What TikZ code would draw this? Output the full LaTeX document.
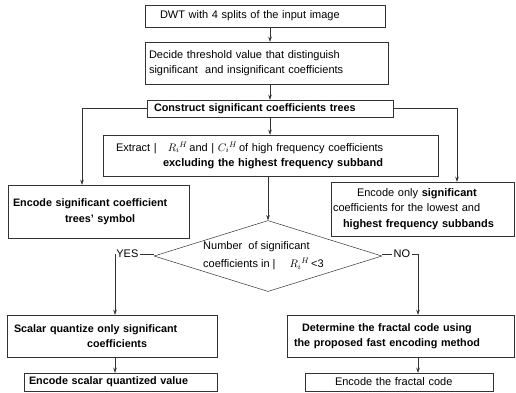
\documentclass[tikz,border=0pt]{standalone}
\usepackage{fontspec}
\setmainfont{Liberation Sans}
\usetikzlibrary{arrows.meta,shapes.geometric}
\begin{document}
\begin{tikzpicture}[x=1pt,y=-1pt,
  line/.style={draw=black!80, line width=0.5pt},
  arr/.style={line, -{Stealth[length=5pt,width=3.5pt]}},
  box/.style={draw=black!80, line width=0.5pt, rectangle, inner sep=0pt, align=left, font=\fontsize{11}{15.5}\selectfont},
  bbox/.style={box, font=\fontsize{10.8}{15.5}\selectfont\bfseries},
  lab/.style={inner sep=1.5pt, fill=white, font=\fontsize{11}{13}\selectfont},
]
\useasboundingbox[fill=white] (0,0) rectangle (516,392);
% top column
\node[box, minimum width=240pt, minimum height=22pt, text width=222pt] (b1) at (265,16) {\hspace*{6pt}DWT with 4 splits of the input image};
\node[box, minimum width=243pt, minimum height=42pt, text width=235pt] (b2) at (266.5,63) {Decide threshold value that distinguish\\significant\ \ and insignificant coefficients};
\node[bbox, minimum width=246pt, minimum height=17pt, text width=232pt] (b3) at (270,108.5) {Construct significant coefficients trees};
\node[box, minimum width=335pt, minimum height=41pt, text width=309pt] (b4) at (270.5,155.5) {Extract |\ \ \ $R_i{}^{H}$\,and |\ $C_i{}^{H}$\,of high frequency coefficients\\\hspace*{47pt}\textbf{excluding the highest frequency subband}};
% side boxes
\node[bbox, minimum width=181pt, minimum height=53pt, text width=171pt] (b5) at (98.5,211.5) {Encode significant coefficient\\\hspace*{52pt}trees' symbol};
\node[box, minimum width=183pt, minimum height=54pt, text width=179pt] (b6) at (422.5,209) {\hspace*{24pt}Encode only \textbf{significant}\\coefficients for the lowest and\\\hspace*{10pt}\textbf{highest frequency subbands}};
% decision
\node[draw=black!80, line width=0.5pt, diamond, minimum width=228pt, minimum height=71pt, inner sep=0pt] (dia) at (268,256) {};
\node[anchor=west, align=left, inner sep=0pt, font=\fontsize{11}{18}\selectfont] (dtxt) at (203,256) {Number\ \ of significant\\coefficients in |\hspace{14pt}$R_i{}^{H}$\,<3};
\coordinate (yc) at (115,254);
\coordinate (nc) at (418,254);
% bottom boxes
\node[bbox, minimum width=210pt, minimum height=42pt, text width=196pt] (sc) at (112,336) {Scalar quantize only significant\\\hspace*{73pt}coefficients};
\node[bbox, minimum width=193pt, minimum height=18pt, text width=183pt] (es) at (120.5,382) {Encode scalar quantized value};
\node[bbox, minimum width=227pt, minimum height=42pt, text width=213pt] (dt) at (400.5,336) {\hspace*{8pt}Determine the fractal code using\\the proposed fast encoding method};
\node[box, minimum width=188pt, minimum height=18pt, text width=128pt] (ef) at (399,382) {Encode the fractal code};
\coordinate (lc) at (82,0);
\coordinate (rc) at (457,0);
% connectors
\draw[arr] (b1.south -| b3) -- (b2.north -| b3);
\draw[arr] (b2.south -| b3) -- (b3.north);
\draw[arr] (b3.south) -- (b4.north -| b3);
\draw[arr] (b4.south -| dia.north) -- (dia.north);
\draw[arr] (b3.west) -| (lc |- b5.north);
\draw[arr] (b3.east) -| (rc |- b6.north);
\draw[line] (dia.west |- yc) -- node[lab, pos=0.68] {YES} (yc);
\draw[arr] (yc) -- (yc |- sc.north);
\draw[line] (dia.east |- nc) -- node[lab, pos=0.55] {NO} (nc);
\draw[arr] (nc) -- (nc |- dt.north);
\draw[arr] (sc.south -| yc) -- (es.north -| yc);
\draw[arr] (dt.south -| nc) -- (ef.north -| nc);
\end{tikzpicture}
\end{document}
